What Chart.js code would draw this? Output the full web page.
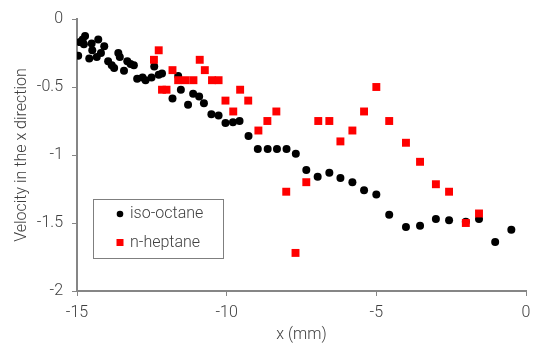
<!DOCTYPE html>
<html>
<head>
<meta charset="utf-8">
<script src="https://cdn.jsdelivr.net/npm/chart.js@4"></script>
<style>
  html, body { margin: 0; padding: 0; background: #fff; }
  #wrap { width: 533px; height: 345px; }
</style>
</head>
<body>
<div id="wrap"><canvas id="chart"></canvas></div>
<script>
// iso-octane (black circles)
const isoX = [-14.96, -14.9, -14.81, -14.77, -14.73, -14.59, -14.51, -14.49, -14.34, -14.29,
  -14.2, -14.09, -13.96, -13.84, -13.76, -13.62, -13.57, -13.43, -13.32, -13.21,
  -13.1, -12.99, -12.81, -12.71, -12.51, -12.42, -12.27, -12.16, -11.81, -11.62,
  -11.53, -11.29, -11.12, -10.92, -10.76, -10.51, -10.27, -10.04, -9.79, -9.57,
  -9.27, -8.96, -8.63, -8.32, -8.0, -7.69, -7.34, -6.96, -6.57, -6.2,
  -5.8, -5.41, -5.0, -4.57, -4.01, -3.54, -3.01, -2.57, -2.01, -1.57,
  -1.03, -0.49];
const isoY = [-0.27, -0.17, -0.15, -0.185, -0.125, -0.29, -0.18, -0.23, -0.28, -0.15,
  -0.25, -0.2, -0.31, -0.34, -0.36, -0.25, -0.28, -0.38, -0.31, -0.33,
  -0.34, -0.44, -0.43, -0.45, -0.43, -0.35, -0.41, -0.4, -0.585, -0.42,
  -0.52, -0.63, -0.55, -0.57, -0.62, -0.7, -0.71, -0.765, -0.76, -0.75,
  -0.86, -0.955, -0.955, -0.955, -0.955, -0.99, -1.11, -1.16, -1.13, -1.17,
  -1.2, -1.26, -1.29, -1.44, -1.53, -1.52, -1.47, -1.48, -1.49, -1.47,
  -1.64, -1.55];

// n-heptane (red squares)
const hepX = [-12.43, -12.27, -12.16, -12.01, -11.81, -11.62, -11.37, -11.11, -10.9, -10.73,
  -10.49, -10.27, -10.04, -9.78, -9.55, -9.28, -8.94, -8.64, -8.34, -8.01,
  -7.7, -7.34, -6.94, -6.57, -6.2, -5.8, -5.41, -5.0, -4.57, -4.01,
  -3.54, -3.01, -2.57, -2.01, -1.57];
const hepY = [-0.3, -0.23, -0.52, -0.52, -0.376, -0.45, -0.45, -0.45, -0.3, -0.376,
  -0.45, -0.45, -0.6, -0.68, -0.52, -0.6, -0.82, -0.75, -0.68, -1.27,
  -1.72, -1.2, -0.75, -0.75, -0.9, -0.82, -0.68, -0.5, -0.75, -0.91,
  -1.05, -1.215, -1.27, -1.5, -1.43];

const xTicks = [-15, -10, -5, 0];
const yTicks = [0, -0.5, -1, -1.5, -2];

const toPoints = (xs, ys) => xs.map((x, i) => ({ x: x, y: ys[i] }));

const FONT = "Roboto, 'Liberation Sans', sans-serif";
const TEXT = "#404040";
const AXIS = "#868686";

// legend drawn inside the plot, like the spreadsheet original
const boxLegend = {
  id: "boxLegend",
  afterDraw(chart) {
    const { ctx, scales } = chart;
    const left = scales.x.left + 16, top = scales.y.top + 180;
    const w = 130, h = 59;
    ctx.save();
    ctx.strokeStyle = "#7f7f7f";
    ctx.lineWidth = 1;
    ctx.strokeRect(left + 0.5, top + 0.5, w, h);
    ctx.font = "300 16px " + FONT;
    ctx.textBaseline = "middle";
    chart.data.datasets.slice().sort((a, b) => b.order - a.order).forEach((ds, i) => {
      const cy = top + 15 + i * 28.5;
      const cx = left + 27;
      ctx.fillStyle = ds.backgroundColor;
      if (ds.pointStyle === "rect") {
        ctx.fillRect(cx - 3.5, cy - 3.5, 7, 7);
      } else {
        ctx.beginPath();
        ctx.arc(cx, cy, 3.3, 0, Math.PI * 2);
        ctx.fill();
      }
      ctx.fillStyle = TEXT;
      ctx.fillText(ds.label, left + 37, cy);
    });
    ctx.restore();
  },
};

const tickFont = { family: FONT, size: 16, weight: 300 };

new Chart(document.getElementById("chart"), {
  type: "scatter",
  data: {
    datasets: [
      {
        label: "iso-octane",
        data: toPoints(isoX, isoY),
        backgroundColor: "#000000",
        borderWidth: 0,
        pointStyle: "circle",
        pointRadius: 4,
        order: 2,
      },
      {
        label: "n-heptane",
        data: toPoints(hepX, hepY),
        backgroundColor: "#ff0000",
        borderWidth: 0,
        pointStyle: "rect",
        pointRadius: 5.6,
        order: 1,
      },
    ],
  },
  options: {
    responsive: true,
    maintainAspectRatio: false,
    animation: false,
    layout: { padding: { top: 19, right: 7, bottom: 0, left: 12 } },
    scales: {
      x: {
        type: "linear",
        min: -15,
        max: 0,
        afterBuildTicks: (axis) => { axis.ticks = xTicks.map((v) => ({ value: v })); },
        afterFit: (axis) => { axis.height = 54; axis.paddingLeft = 0; axis.paddingRight = 0; },
        grid: { drawOnChartArea: false, drawTicks: true, tickLength: 5, color: AXIS },
        border: { color: AXIS, width: 2 },
        ticks: { color: TEXT, font: tickFont, padding: 7, maxRotation: 0,
          callback: (v) => String(v) },
        title: { display: true, text: "x (mm)", color: TEXT, font: tickFont,
          padding: { top: 1, bottom: 0 } },
      },
      y: {
        type: "linear",
        min: -2,
        max: 0,
        afterBuildTicks: (axis) => { axis.ticks = yTicks.map((v) => ({ value: v })); },
        afterFit: (axis) => { axis.width = 65; axis.paddingTop = 0; axis.paddingBottom = 0; },
        grid: { drawOnChartArea: false, drawTicks: true, tickLength: 5, color: AXIS },
        border: { color: AXIS, width: 2 },
        ticks: { color: TEXT, font: tickFont, padding: 9,
          callback: (v) => String(v) },
        title: { display: true, text: "Velocity in the x direction", color: TEXT,
          font: tickFont, padding: { top: 0, bottom: 4 } },
      },
    },
    plugins: {
      legend: { display: false },
      tooltip: { enabled: false },
    },
  },
  plugins: [boxLegend],
});
</script>
</body>
</html>
